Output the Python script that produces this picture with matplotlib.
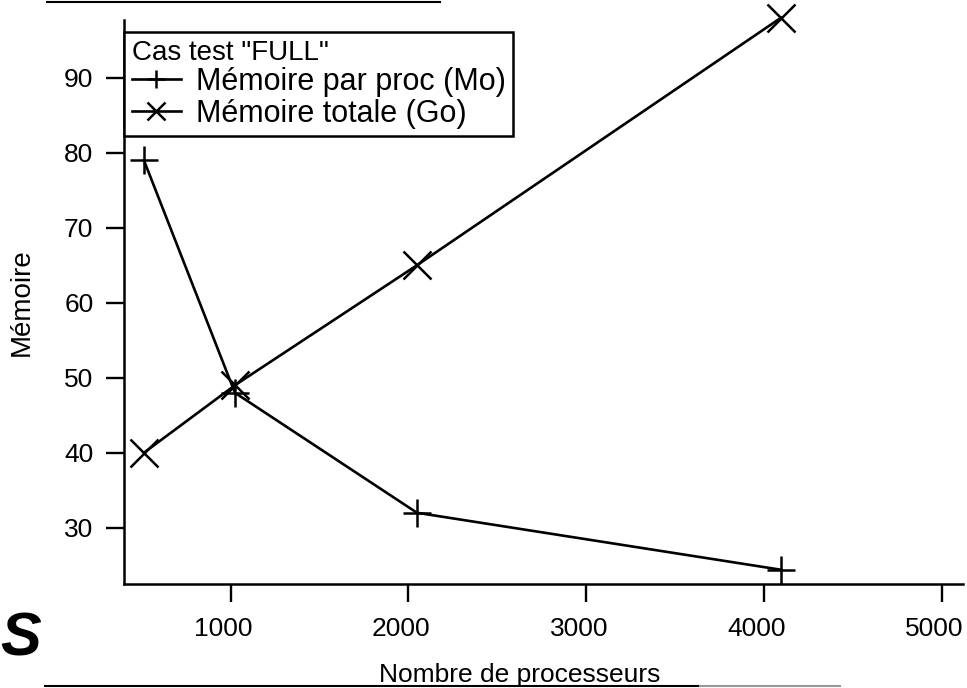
import matplotlib
matplotlib.use("Agg")
import matplotlib.pyplot as plt
from matplotlib.lines import Line2D
from matplotlib.transforms import ScaledTranslation

plt.rcParams['font.family'] = ['Liberation Sans', 'DejaVu Sans']

# donnees
procs = [512, 1024, 2048, 4096]
mem_proc = [79, 48, 32, 24.4]     # Mo
mem_tot = [40, 49, 65, 98]        # Go
xticks = [1000, 2000, 3000, 4000, 5000]
yticks = [30, 40, 50, 60, 70, 80, 90]

W, H = 967, 688
fig = plt.figure(figsize=(W / 100, H / 100), dpi=100)
ax = fig.add_axes([124 / W, 1 - 584 / H, (963 - 124) / W, (584 - 20) / H])

ax.plot(procs, mem_proc, color='k', lw=1.9, marker='+', ms=20, mew=1.8,
        label='Mémoire par proc (Mo)', clip_on=False)
ax.plot(procs, mem_tot, color='k', lw=1.9, marker='x', ms=20, mew=1.8,
        label='Mémoire totale (Go)', clip_on=False)

ax.set_xlim(400, 5120)
ax.set_ylim(22.5, 97.7)
ax.set_xticks(xticks)
ax.set_yticks(yticks)
ax.tick_params(direction='out', length=13, width=1.7, labelsize=19, pad=9)
ax.tick_params(axis='x', pad=11)
# labels de l'axe x un peu decales a gauche
off = ScaledTranslation(-7 / 100, 0, fig.dpi_scale_trans)
for lab in ax.get_xticklabels():
    lab.set_transform(lab.get_transform() + off)

for s in ['top', 'right']:
    ax.spines[s].set_visible(False)
for s in ['left', 'bottom']:
    ax.spines[s].set_linewidth(1.8)

ax.set_ylabel('Mémoire', fontsize=20)
ax.yaxis.set_label_coords(-0.1216, 0.5)
ax.yaxis.label.set_va('center')
ax.set_xlabel('Nombre de processeurs', fontsize=19)
ax.xaxis.set_label_coords(0.472, -0.161)
ax.xaxis.label.set_va('center')

leg = ax.legend(title='Cas test "FULL"', loc='upper left',
                bbox_to_anchor=(124 / W, 1 - 32 / H), bbox_transform=fig.transFigure,
                borderaxespad=0, fontsize=22, title_fontsize=20, markerscale=0.65,
                handlelength=1.6, handletextpad=0.5, labelspacing=0.05,
                borderpad=0.25, fancybox=False, framealpha=1, alignment='left')
leg.get_frame().set_edgecolor('k')
leg.get_frame().set_linewidth(1.8)
leg.set_zorder(5)

# traits de la page
fig.add_artist(Line2D([47 / W, 440 / W], [1 - 2 / H] * 2, color='k', lw=1.5))
fig.add_artist(Line2D([45 / W, 700 / W], [1 - 686 / H] * 2, color='k', lw=1.5))
fig.add_artist(Line2D([700 / W, 840 / W], [1 - 686 / H] * 2, color='0.6', lw=1.5))
fig.text(0.0, 1 - 640 / H, 'S', fontsize=44, weight='bold', style='italic',
         va='center', ha='left')

fig.savefig('out.png', dpi=100)
